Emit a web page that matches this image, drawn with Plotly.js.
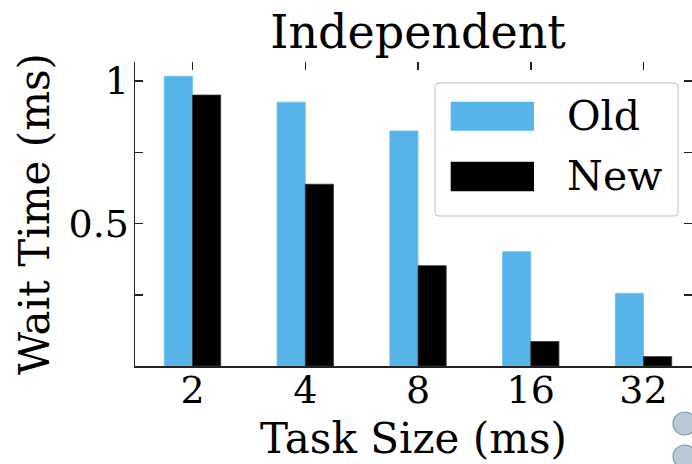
<!DOCTYPE html>
<html>
<head>
<meta charset="utf-8">
<script src="https://cdn.plot.ly/plotly-3.0.1.min.js"></script>
<style>html,body{margin:0;padding:0;background:#fff;}#chart{width:692px;height:464px;}</style>
</head>
<body>
<div id="chart"></div>
<script>
// ---- data ----
const categories = ['2', '4', '8', '16', '32'];
const seriesNames = ['Old', 'New'];
const oldValues = [1.017, 0.926, 0.825, 0.401, 0.255];
const newValues = [0.951, 0.638, 0.352, 0.086, 0.033];
const yTickVals = [0.25, 0.5, 0.75, 1];
const yTickText = ['', '0.5', '', '1'];

// ---- style ----
const FONT = 'DejaVu Serif';
const BLUE = '#56B4E9';
const DARK = '#222222';

function roundRect(x0, y0, x1, y1, rx, ry) {
  return 'M' + (x0 + rx) + ',' + y0 +
    ' L' + (x1 - rx) + ',' + y0 + ' Q' + x1 + ',' + y0 + ' ' + x1 + ',' + (y0 + ry) +
    ' L' + x1 + ',' + (y1 - ry) + ' Q' + x1 + ',' + y1 + ' ' + (x1 - rx) + ',' + y1 +
    ' L' + (x0 + rx) + ',' + y1 + ' Q' + x0 + ',' + y1 + ' ' + x0 + ',' + (y1 - ry) +
    ' L' + x0 + ',' + (y0 + ry) + ' Q' + x0 + ',' + y0 + ' ' + (x0 + rx) + ',' + y0 + ' Z';
}

const traces = [
  {type: 'bar', name: seriesNames[0], x: categories, y: oldValues,
   marker: {color: BLUE, line: {color: '#6cc0ee', width: 0.8}}, showlegend: false, hoverinfo: 'x+y'},
  {type: 'bar', name: seriesNames[1], x: categories, y: newValues,
   marker: {color: '#000000', line: {color: '#333333', width: 0.8}}, showlegend: false, hoverinfo: 'x+y'},
  // invisible trace that carries the mirrored top/right tick axes
  {type: 'scatter', mode: 'markers', x: categories, y: oldValues, xaxis: 'x2', yaxis: 'y2',
   marker: {opacity: 0}, showlegend: false, hoverinfo: 'skip'}
];

const legendShapes = [
  {type: 'path', xref: 'paper', yref: 'paper', path: roundRect(0.5386, 0.4934, 0.9749, 0.9309, 0.009, 0.016),
   line: {color: '#d0d0d0', width: 1.3}, fillcolor: 'rgba(255,255,255,0.9)', layer: 'above'},
  {type: 'rect', xref: 'paper', yref: 'paper', x0: 0.5668, x1: 0.7163, y0: 0.7740, y1: 0.8694,
   fillcolor: BLUE, line: {width: 0}, layer: 'above'},
  {type: 'rect', xref: 'paper', yref: 'paper', x0: 0.5668, x1: 0.7163, y0: 0.5750, y1: 0.6717,
   fillcolor: '#000000', line: {width: 0}, layer: 'above'}
];

const decoShapes = [
  {type: 'circle', xref: 'paper', yref: 'paper', xsizemode: 'pixel', ysizemode: 'pixel',
   xanchor: 1, yanchor: 0, x0: -19, x1: 4.5, y0: -69, y1: -46,
   fillcolor: '#b9c9d8', line: {color: '#7f98ad', width: 1.2}},
  {type: 'circle', xref: 'paper', yref: 'paper', xsizemode: 'pixel', ysizemode: 'pixel',
   xanchor: 1, yanchor: 0, x0: -19, x1: 4.5, y0: -102, y1: -79,
   fillcolor: '#b9c9d8', line: {color: '#7f98ad', width: 1.2}}
];

const layout = {
  width: 692, height: 464,
  margin: {l: 135, r: 0, t: 62, b: 98, pad: 0},
  paper_bgcolor: '#ffffff', plot_bgcolor: '#ffffff',
  font: {family: FONT, color: '#000000'},
  showlegend: false,
  barmode: 'group', bargap: 0.5, bargroupgap: 0,
  title: {text: 'Independent', font: {family: FONT, size: 46, color: '#000'},
          xref: 'container', x: 418 / 692, xanchor: 'center',
          yref: 'container', y: 1 - 32 / 464, yanchor: 'middle'},
  xaxis: {type: 'category', range: [-0.51, 4.43], showgrid: false, zeroline: false,
          showline: true, linecolor: DARK, linewidth: 1.5, ticks: '',
          tickfont: {family: FONT, size: 38, color: '#000'}, ticklabelstandoff: -10,
          title: {text: 'Task Size (ms)', font: {family: FONT, size: 42, color: '#000'}, standoff: 12}},
  yaxis: {range: [0, 1.067], showgrid: false, zeroline: false,
          showline: true, linecolor: DARK, linewidth: 1.5,
          ticks: 'inside', ticklen: 8, tickwidth: 1.5, tickcolor: DARK,
          tickvals: yTickVals, ticktext: yTickText,
          tickfont: {family: FONT, size: 38, color: '#000'}, ticklabelstandoff: -3,
          title: {text: 'Wait Time (ms)', font: {family: FONT, size: 42, color: '#000'}, standoff: 6}},
  xaxis2: {type: 'category', overlaying: 'x', side: 'top', anchor: 'y', matches: 'x',
           showgrid: false, zeroline: false, showline: false, showticklabels: false,
           ticks: 'inside', ticklen: 8, tickwidth: 1.5, tickcolor: DARK},
  yaxis2: {overlaying: 'y', side: 'right', anchor: 'x', matches: 'y',
           showgrid: false, zeroline: false, showline: false, showticklabels: false,
           tickvals: yTickVals, ticks: 'inside', ticklen: 8, tickwidth: 1.5, tickcolor: DARK},
  shapes: legendShapes.concat(decoShapes),
  annotations: [
    {xref: 'paper', yref: 'paper', x: 0.772, y: 0.8224, xanchor: 'left', yanchor: 'middle',
     text: seriesNames[0], showarrow: false, font: {family: FONT, size: 41, color: '#000'}},
    {xref: 'paper', yref: 'paper', x: 0.772, y: 0.625, xanchor: 'left', yanchor: 'middle',
     text: seriesNames[1], showarrow: false, font: {family: FONT, size: 41, color: '#000'}}
  ]
};

Plotly.newPlot('chart', traces, layout, {displayModeBar: false, staticPlot: true});
</script>
</body>
</html>
